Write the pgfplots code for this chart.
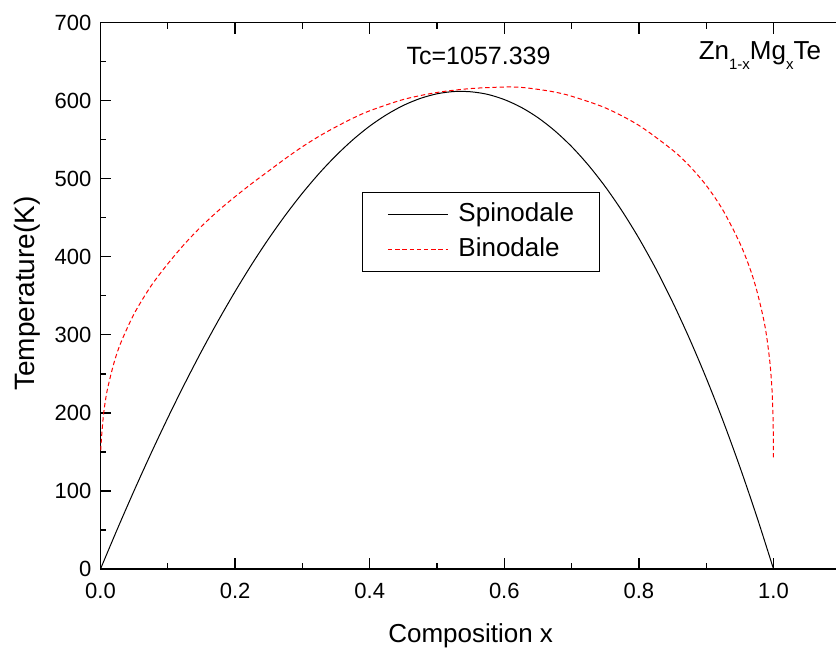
\documentclass[border=0pt]{standalone}
\usepackage{fontspec}
\setmainfont{Liberation Sans}
\usepackage{pgfplots}
\pgfplotsset{compat=1.18}

% Spinodal curve T_s(x) of Zn(1-x)Mg(x)Te
\pgfplotstableread{
x       T
0.000   0
0.025   51.1
0.050   100.5
0.075   148.0
0.100   193.6
0.125   237.2
0.150   278.8
0.175   318.2
0.200   355.5
0.225   390.6
0.250   423.3
0.275   453.6
0.300   481.5
0.325   506.9
0.350   529.7
0.375   549.9
0.400   567.4
0.425   582.0
0.450   593.9
0.475   602.8
0.500   608.8
0.525   611.7
0.550   611.4
0.575   608.1
0.600   601.4
0.625   591.5
0.650   578.2
0.675   561.4
0.700   541.2
0.725   517.3
0.750   489.8
0.775   458.6
0.800   423.7
0.825   384.9
0.850   342.1
0.875   295.4
0.900   244.7
0.925   189.9
0.950   130.8
0.975   67.6
1.000   0
}\spinodal

% Binodal (miscibility gap) curve
\pgfplotstableread{
x       T
0.0003  152
0.002   174
0.005   201.6
0.010   229
0.020   264
0.030   289.4
0.050   327
0.075   362.5
0.100   391
0.125   416.5
0.150   439
0.175   459
0.200   477
0.225   494
0.250   510
0.275   526
0.300   541
0.325   554.5
0.350   566.5
0.375   577.5
0.400   587
0.450   601.5
0.500   610.5
0.550   615.5
0.600   617.5
0.625   617
0.650   614.5
0.675   611
0.700   605.7
0.750   590.8
0.800   568.3
0.850   536.7
0.875   516.5
0.900   491.5
0.925   459.5
0.950   417.5
0.965   385
0.975   357.3
0.985   321.3
0.990   296.9
0.995   261.8
0.998   226.1
0.9995  186.7
1.000   140
}\binodal

\begin{document}
\begin{tikzpicture}
\begin{axis}[
  at={(0pt,0pt)}, anchor=south west,
  scale only axis,
  width=370.15pt, height=273.2pt,
  xmin=0, xmax=1.1, ymin=0, ymax=700,
  axis line style={line width=0.65pt},
  every tick/.style={black, line width=0.65pt},
  tick align=inside,
  major tick length=5.5pt,
  minor tick length=3pt,
  xtick={0,0.2,0.4,0.6,0.8,1.0},
  ytick={0,100,...,700},
  ytick pos=left,
  minor x tick num=1,
  minor y tick num=1,
  /pgf/number format/assume math mode=true,
  ticklabel style={font=\fontsize{11}{13}\selectfont},
  xticklabel style={/pgf/number format/fixed, /pgf/number format/fixed zerofill,
    /pgf/number format/precision=1, yshift=-3.3pt},
  yticklabel style={xshift=-1pt},
  xlabel={Composition x},
  ylabel={Temperature(K)},
  xlabel style={font=\fontsize{13}{15}\selectfont, at={(axis description cs:0.5,-0.1354)}, anchor=base},
  ylabel style={font=\fontsize{14}{16}\selectfont, at={(axis description cs:-0.0885,0.504)}, anchor=base},
  legend image code/.code={\draw[#1] (0pt,0pt) -- (30pt,0pt);},
  legend style={
    at={(axis description cs:0.3532,0.69)}, anchor=north west,
    draw=black, line width=0.5pt,
    font=\fontsize{13}{15}\selectfont,
    inner xsep=12.5pt, inner ysep=4.5pt,
    column sep=5pt, row sep=4.5pt,
    nodes={inner sep=0pt, text height=10pt, text depth=3pt},
  },
  legend cell align=left,
]
\addplot[black, line width=0.5pt, smooth, tension=0.5] table[x=x, y=T] {\spinodal};
\addlegendentry{Spinodale}
\addplot[red, line width=0.5pt, dash pattern=on 2.2pt off 1.4pt, smooth, tension=0.5] table[x=x, y=T] {\binodal};
\addlegendentry{Binodale}

\node[anchor=base, font=\fontsize{12.5}{14}\selectfont] at (axis cs:0.5617,645.7) {Tc=1057.339};
\node[anchor=base west, font=\fontsize{13}{15}\selectfont] at (axis cs:0.8785,653.3)
  {Zn\raisebox{-5.3pt}{\fontsize{7.5}{8}\selectfont 1-x}Mg\raisebox{-5.3pt}{\fontsize{7.5}{8}\selectfont x}Te};
\end{axis}
\pgfresetboundingbox
\path[use as bounding box] (-50.25pt,-41.5pt) rectangle (367.75pt,284.5pt);
\end{tikzpicture}
\end{document}
